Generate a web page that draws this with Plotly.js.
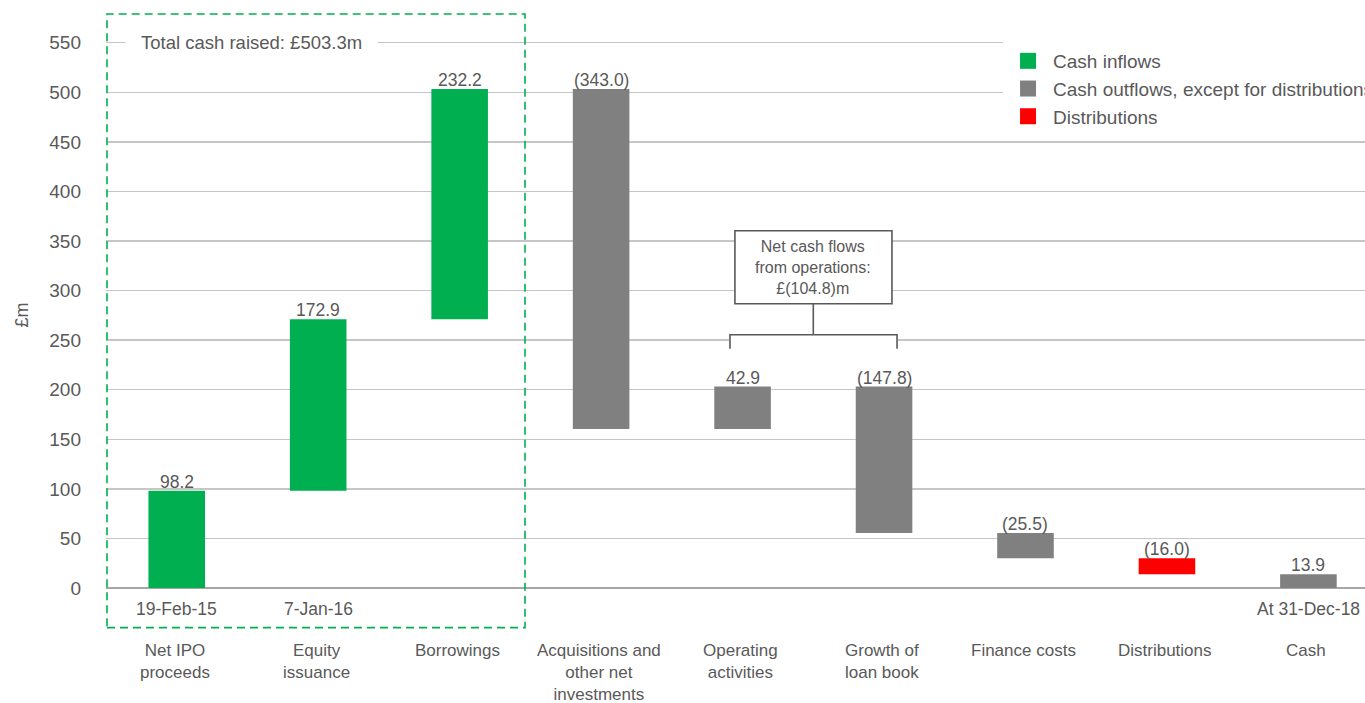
<!DOCTYPE html>
<html>
<head>
<meta charset="utf-8">
<script src="https://cdn.plot.ly/plotly-3.0.1.min.js"></script>
<style>
html,body{margin:0;padding:0;background:#fff;}
#chart{width:1365px;height:703px;}
</style>
</head>
<body>
<div id="chart"></div>
<script>
// ---- data ----
const categories = ['Net IPO<br>proceeds', 'Equity<br>issuance', 'Borrowings', 'Acquisitions and<br>other net<br>investments', 'Operating<br>activities', 'Growth of<br>loan book', 'Finance costs', 'Distributions', 'Cash'];
const values = [98.2, 172.9, 232.2, -343.0, 42.9, -147.8, -25.5, -16.0, 13.9];
const kinds = ['in', 'in', 'in', 'out', 'out', 'out', 'out', 'dist', 'total'];
const valueLabels = ['98.2', '172.9', '232.2', '(343.0)', '42.9', '(147.8)', '(25.5)', '(16.0)', '13.9'];
const dateLabels = ['19-Feb-15', '7-Jan-16', '', '', '', '', '', '', 'At 31-Dec-18'];
const seriesNames = ['Cash inflows', 'Cash outflows, except for distributions', 'Distributions'];
const yTicks = [0, 50, 100, 150, 200, 250, 300, 350, 400, 450, 500, 550];
const yTitle = '£m';
const totalRaisedText = 'Total cash raised: £503.3m';
const operationsText = 'Net cash flows<br>from operations:<br>£(104.8)m';

// ---- styles ----
const FONT = '"Liberation Sans", Arial, sans-serif';
const TXT = '#595959';
const GREEN = '#00b050', GREY = '#808080', RED = '#ff0000';

// ---- waterfall bases ----
const bases = [];
let run = 0;
values.forEach((v, i) => {
  if (kinds[i] === 'total') { bases.push(0); }
  else { bases.push(run); run += v; }
});

function pick(pred) {
  const x = [], y = [], b = [];
  values.forEach((v, i) => { if (pred(kinds[i])) { x.push(i); y.push(v); b.push(bases[i]); } });
  return {x, y, b};
}
const inflow = pick(k => k === 'in');
const outflow = pick(k => k === 'out' || k === 'total');
const dist = pick(k => k === 'dist');

function barTrace(d, color) {
  return {type: 'bar', x: d.x, y: d.y, base: d.b, width: 0.4, marker: {color: color, line: {width: 0}},
          showlegend: false, hoverinfo: 'skip'};
}
function legendTrace(name, color) {
  return {type: 'scatter', mode: 'markers', x: [null], y: [null], name: name,
          marker: {symbol: 'square', size: 16, color: color}, hoverinfo: 'skip'};
}

const traces = [
  barTrace(inflow, GREEN), barTrace(outflow, GREY), barTrace(dist, RED),
  legendTrace(seriesNames[0], GREEN), legendTrace(seriesNames[1], GREY), legendTrace(seriesNames[2], RED)
];

const annotations = [];
// value labels above each bar
values.forEach((v, i) => {
  const top = Math.max(bases[i], bases[i] + v);
  annotations.push({x: i, y: top, xref: 'x', yref: 'y', text: valueLabels[i], showarrow: false,
    yanchor: 'bottom', yshift: -3, font: {family: FONT, size: 17.5, color: TXT}});
});
// category labels
categories.forEach((c, i) => {
  annotations.push({x: i, y: -51.6, xref: 'x', yref: 'y', text: c, showarrow: false,
    xshift: -2, yanchor: 'top', font: {family: FONT, size: 17, color: TXT}});
});
// date labels
dateLabels.forEach((d, i) => {
  if (!d) return;
  annotations.push({x: i, y: -21.5, xref: 'x', yref: 'y', text: d, showarrow: false,
    yanchor: 'middle', font: {family: FONT, size: 17.5, color: TXT}});
});
// total cash raised
annotations.push({x: 0.53, y: 550, xref: 'x', yref: 'y', text: totalRaisedText, showarrow: false,
  bgcolor: '#ffffff', borderpad: 15, xanchor: 'center', yanchor: 'middle',
  font: {family: FONT, size: 18.5, color: TXT}});
// operations box text
annotations.push({x: 4.5, y: 323.5, xref: 'x', yref: 'y', text: operationsText, showarrow: false,
  xanchor: 'center', yanchor: 'middle', font: {family: FONT, size: 16, color: TXT}});
// y axis title
annotations.push({x: -0.0667, xref: 'paper', y: 275, yref: 'y', text: yTitle, showarrow: false,
  textangle: -90, xanchor: 'center', yanchor: 'middle', font: {family: FONT, size: 18, color: TXT}});

const shapes = [
  // dashed box around cash raised
  {type: 'rect', xref: 'x', yref: 'y', x0: -0.493, x1: 2.462, y0: -40, y1: 579,
   line: {color: GREEN, width: 1.6, dash: '8px,5px'}, fillcolor: 'rgba(0,0,0,0)', layer: 'above'},
  // operations box
  {type: 'rect', xref: 'x', yref: 'y', x0: 3.946, x1: 5.056, y0: 286.7, y1: 360.3,
   line: {color: TXT, width: 1.6}, fillcolor: '#ffffff', layer: 'above'},
  // white strip behind bracket
  {type: 'rect', xref: 'x', yref: 'y', x0: 3.905, x1: 5.098, y0: 241.3, y1: 255.4,
   line: {width: 0}, fillcolor: '#ffffff', layer: 'above'},
  // stem
  {type: 'line', xref: 'x', yref: 'y', x0: 4.5, x1: 4.5, y0: 286.7, y1: 255.4, line: {color: TXT, width: 1.6}},
  // bracket
  {type: 'path', xref: 'x', yref: 'y',
   path: 'M 3.911 241.3 L 3.911 255.4 L 5.092 255.4 L 5.092 241.3',
   line: {color: TXT, width: 1.6}, fillcolor: 'rgba(0,0,0,0)'}
];

const layout = {
  width: 1365, height: 703,
  margin: {l: 106, r: 0, t: 13, b: 0, autoexpand: false},
  paper_bgcolor: '#ffffff', plot_bgcolor: '#ffffff',
  font: {family: FONT, color: TXT},
  barmode: 'overlay',
  showlegend: true,
  legend: {x: 0.7125, xanchor: 'left', y: 0.958, yanchor: 'top', bgcolor: '#ffffff',
           itemwidth: 40, font: {family: FONT, size: 19, color: TXT}, tracegroupgap: 0},
  xaxis: {range: [-0.5, 8.4], showticklabels: false, showgrid: false, zeroline: false,
          showline: false, ticks: '', fixedrange: true},
  yaxis: {range: [-116, 580], tickvals: yTicks, ticktext: yTicks.map(String), showgrid: true,
          gridcolor: '#c6c6c6', gridwidth: 1.4, zeroline: true, zerolinecolor: '#a6a6a6', zerolinewidth: 2,
          ticks: '', ticklabelstandoff: 24, tickfont: {family: FONT, size: 19, color: TXT}, fixedrange: true},
  annotations: annotations,
  shapes: shapes
};

Plotly.newPlot('chart', traces, layout, {displayModeBar: false, staticPlot: true});
</script>
</body>
</html>
